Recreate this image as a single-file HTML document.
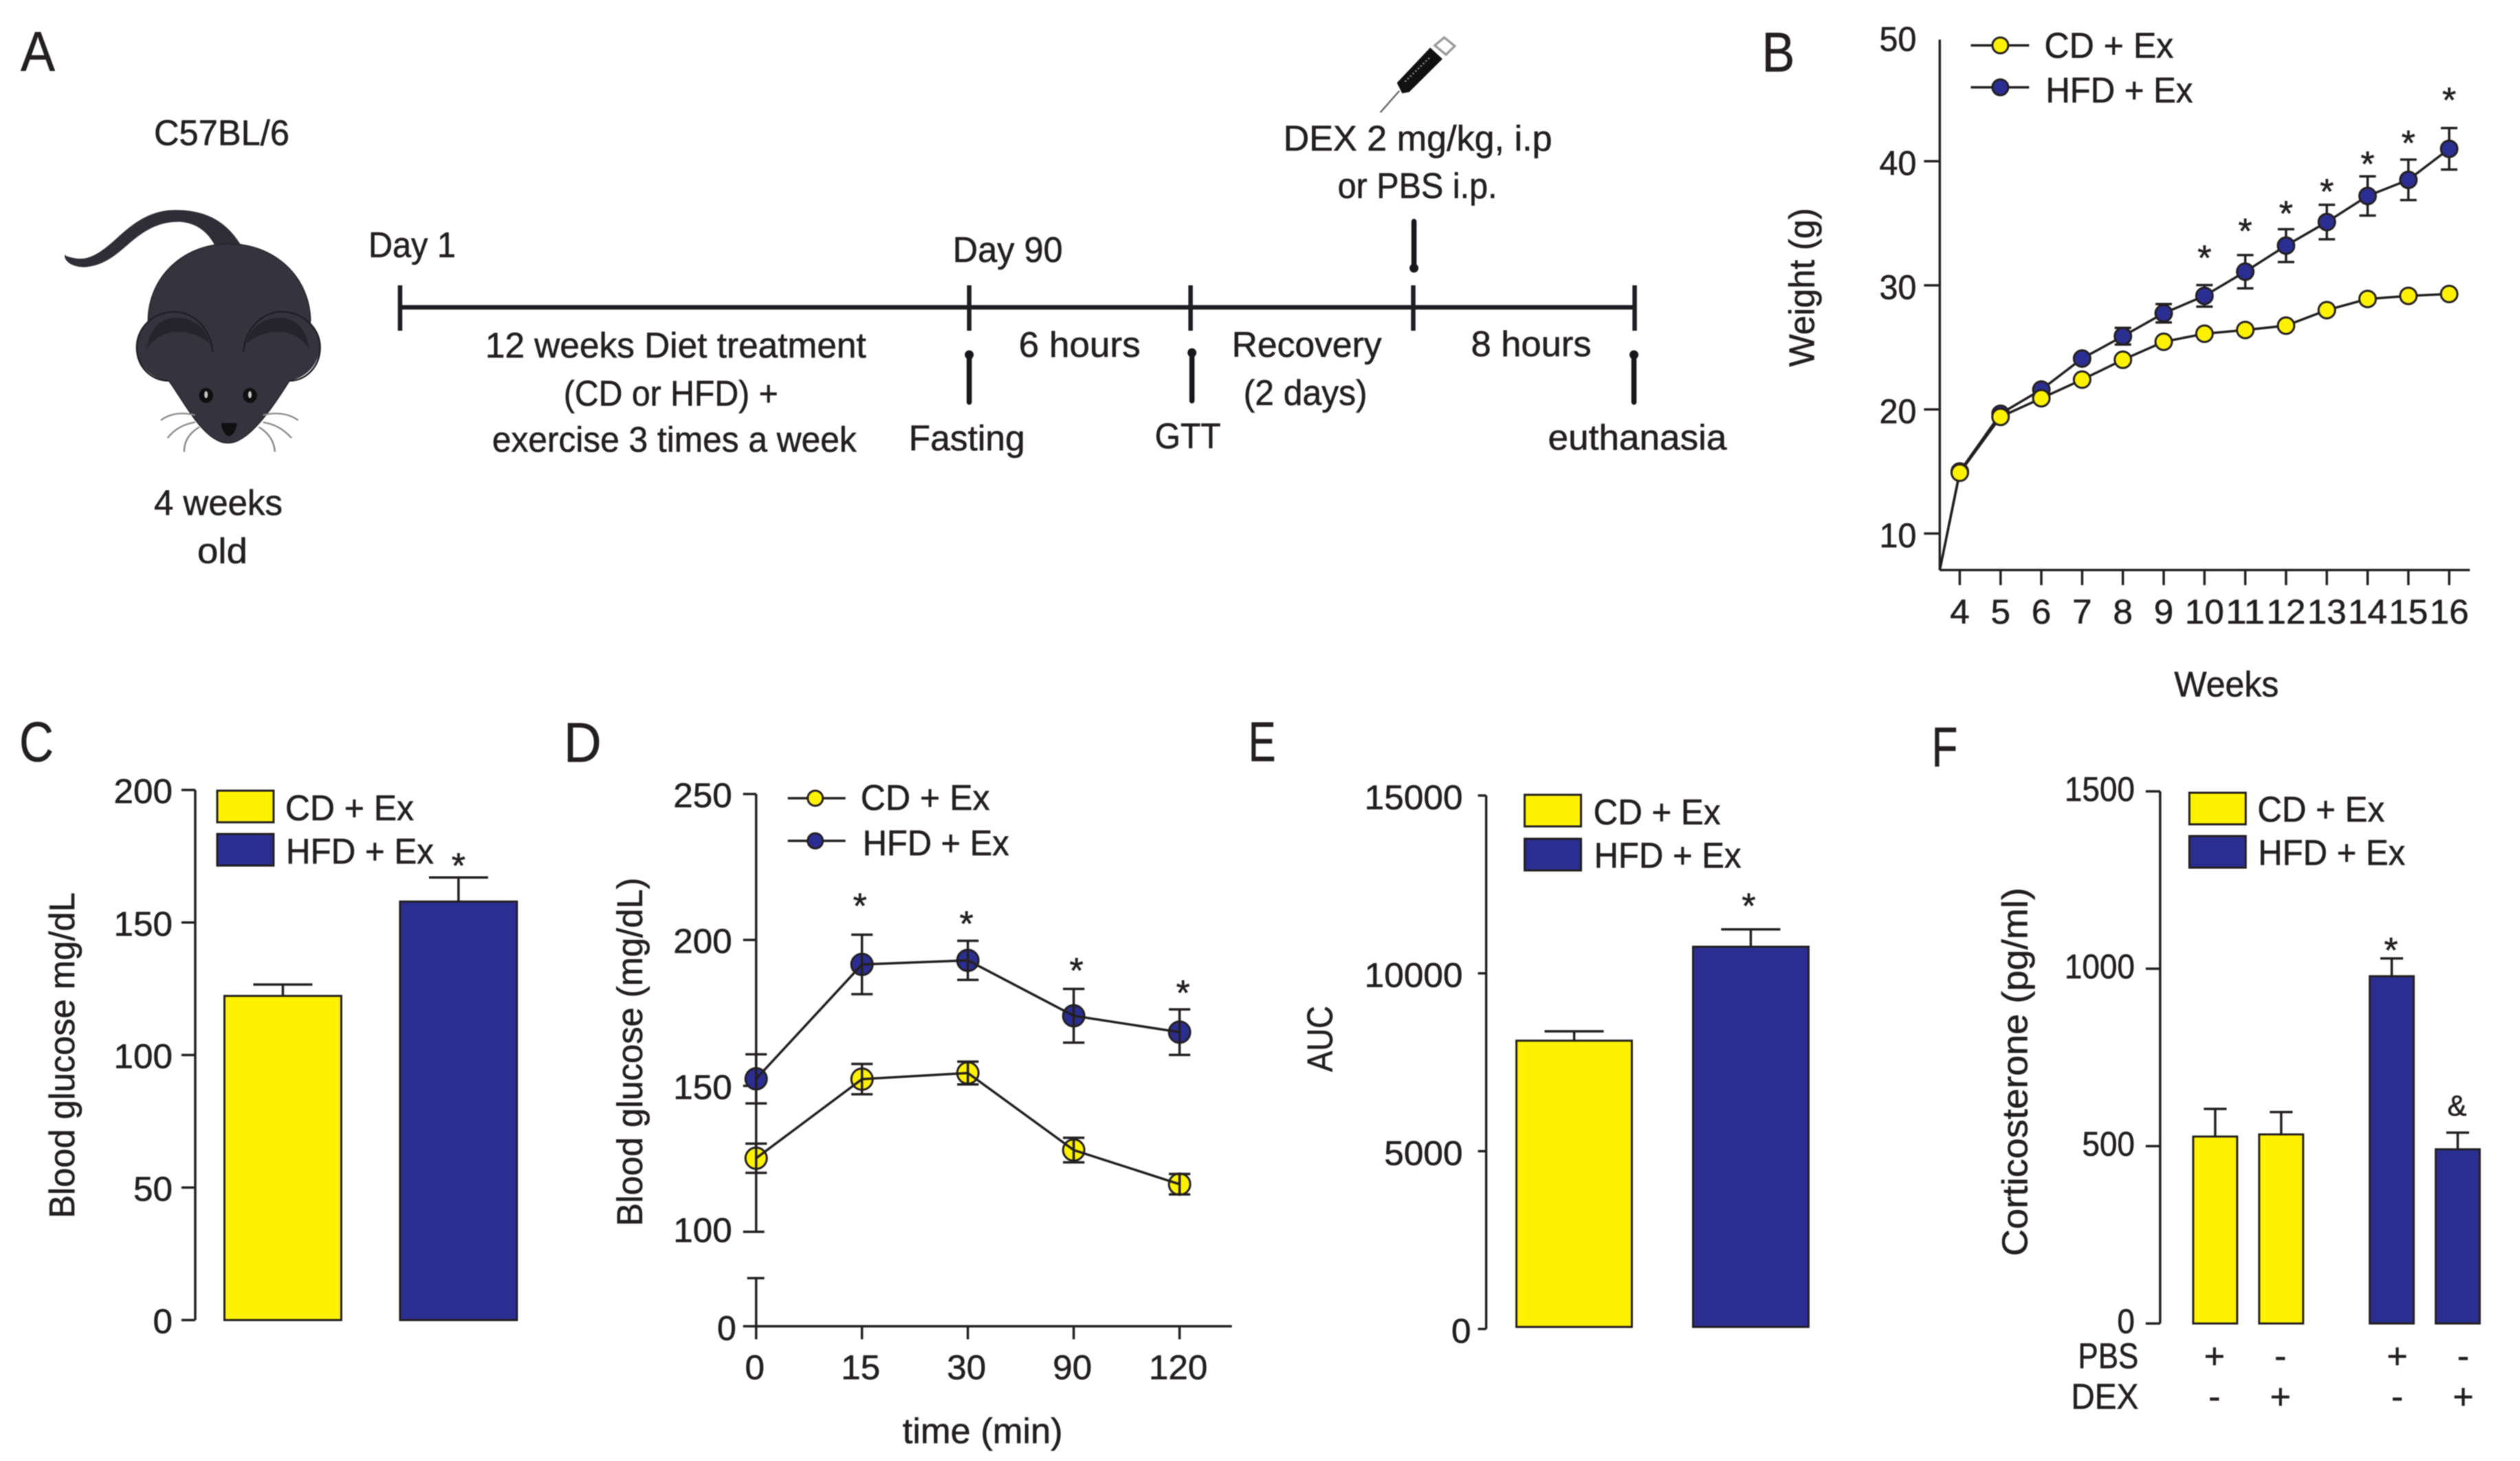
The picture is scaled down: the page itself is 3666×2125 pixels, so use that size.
<!DOCTYPE html>
<html lang="en">
<head>
<meta charset="utf-8">
<title>Diet, exercise and corticosterone figure</title>
<style>
html,body{margin:0;padding:0;background:#fff;width:3666px;height:2125px;overflow:hidden}
svg{display:block;filter:blur(.7px)}
text{font-family:"Liberation Sans",sans-serif;fill:#231f20;font-size:52px;stroke:#231f20;stroke-width:.6}
.pl{font-size:82px}
.ln{stroke:#231f20;fill:none;stroke-width:3.5}
.tl{stroke:#1d1d22;fill:none;stroke-width:6.5}
.ar{stroke:#17171c;fill:none;stroke-width:7.5;stroke-linecap:round}
.yl{fill:#fff200;stroke:#231f20;stroke-width:3}
.bl{fill:#2b2e91;stroke:#231f20;stroke-width:3}
</style>
</head>
<body>
<svg id="fig" xmlns="http://www.w3.org/2000/svg" width="3666" height="2125" viewBox="0 0 3666 2125">
<rect width="3666" height="2125" fill="#fff"/>

<g>
  <text class="pl" x="30" y="103" textLength="50" lengthAdjust="spacingAndGlyphs">A</text>
  <text x="224" y="211" textLength="197" lengthAdjust="spacingAndGlyphs">C57BL/6</text>
  <text x="224" y="749" textLength="187" lengthAdjust="spacingAndGlyphs">4 weeks</text>
  <text x="287" y="819" textLength="73" lengthAdjust="spacingAndGlyphs">old</text>

  <g transform="scale(.6378,.574)">
    <path d="M548,618C520,570 480,532 400,532C340,532 300,570 270,600C240,630 210,660 175,655C160,652 150,650 148,645C145,655 155,675 190,677C240,675 270,640 300,612C340,575 370,562 410,562C450,565 475,590 490,622Z" fill="#2f2d36"/>
    <path d="M338,810C340,700 420,618 522,618C625,618 705,700 708,810L700,900L660,965C640,1000 590,1090 545,1115C530,1125 510,1125 495,1115C450,1090 410,1000 385,965L345,900Z" fill="#35333d" stroke="#29272f" stroke-width="3"/>
    <ellipse cx="398" cy="878" rx="87" ry="89" fill="#35333d"/>
    <ellipse cx="642" cy="878" rx="87" ry="89" fill="#35333d"/>
    <path d="M335,885C340,830 370,805 400,805C440,805 470,830 478,870C450,845 420,838 390,842C365,848 345,865 335,885Z" fill="#25242b"/>
    <path d="M705,885C700,830 670,805 640,805C600,805 570,830 562,870C590,845 620,838 650,842C675,848 695,865 705,885Z" fill="#25242b"/>
    <path d="M485,892C480,830 440,790 398,790C350,790 312,830 312,880C312,930 345,965 385,965" fill="none" stroke="#1f1e24" stroke-width="4"/>
    <path d="M555,892C560,830 600,790 642,790C690,790 730,830 730,880C730,930 697,965 660,965" fill="none" stroke="#1f1e24" stroke-width="4"/>
    <ellipse cx="470" cy="1002" rx="16" ry="19" fill="#0f0f12"/>
    <ellipse cx="570" cy="1002" rx="16" ry="19" fill="#0f0f12"/>
    <ellipse cx="470" cy="1000" rx="4" ry="9" fill="#c8c8c8"/>
    <ellipse cx="570" cy="1000" rx="4" ry="9" fill="#c8c8c8"/>
    <path d="M505,1072L540,1072C540,1090 530,1105 522,1105C515,1105 505,1090 505,1072Z" fill="#0f0f12"/>
    <g fill="none" stroke="#8a8a8a" stroke-width="4">
      <path d="M445,1052C420,1045 390,1045 367,1065"/>
      <path d="M445,1070C420,1075 400,1085 382,1110"/>
      <path d="M455,1082C435,1095 420,1115 420,1145"/>
      <path d="M600,1052C625,1045 655,1045 680,1065"/>
      <path d="M600,1070C625,1075 645,1085 665,1110"/>
      <path d="M590,1082C610,1095 625,1115 627,1145"/>
    </g>
  </g>

  <g>
    <line class="tl" x1="582" y1="447" x2="2378" y2="447"/>
    <line class="tl" x1="582" y1="415" x2="582" y2="481"/>
    <line class="tl" x1="1410" y1="415" x2="1410" y2="481"/>
    <line class="tl" x1="1732" y1="415" x2="1732" y2="481"/>
    <line class="tl" x1="2056" y1="415" x2="2056" y2="481"/>
    <line class="tl" x1="2378" y1="415" x2="2378" y2="481"/>
    <line class="ar" x1="2057" y1="322" x2="2057" y2="388"/>
    <circle cx="2057" cy="390" r="6.5" fill="#17171c"/>
    <line class="ar" x1="1410" y1="518" x2="1410" y2="585"/>
    <circle cx="1410" cy="516" r="6.5" fill="#17171c"/>
    <line class="ar" x1="1734" y1="515" x2="1734" y2="583"/>
    <circle cx="1734" cy="513" r="6.5" fill="#17171c"/>
    <line class="ar" x1="2377" y1="520" x2="2377" y2="585"/>
    <circle cx="2377" cy="516" r="6.5" fill="#17171c"/>
    <text x="536" y="374" textLength="127" lengthAdjust="spacingAndGlyphs">Day 1</text>
    <text x="1386" y="381" textLength="160" lengthAdjust="spacingAndGlyphs">Day 90</text>
    <text x="706" y="520" textLength="554" lengthAdjust="spacingAndGlyphs">12 weeks Diet treatment</text>
    <text x="820" y="590" textLength="312" lengthAdjust="spacingAndGlyphs">(CD or HFD) +</text>
    <text x="716" y="657" textLength="530" lengthAdjust="spacingAndGlyphs">exercise 3 times a week</text>
    <text x="1482" y="519" textLength="177" lengthAdjust="spacingAndGlyphs">6 hours</text>
    <text x="1322" y="655" textLength="169" lengthAdjust="spacingAndGlyphs">Fasting</text>
    <text x="1680" y="652" textLength="96" lengthAdjust="spacingAndGlyphs">GTT</text>
    <text x="1792" y="519" textLength="218" lengthAdjust="spacingAndGlyphs">Recovery</text>
    <text x="1809" y="589" textLength="180" lengthAdjust="spacingAndGlyphs">(2 days)</text>
    <text x="2140" y="518" textLength="175" lengthAdjust="spacingAndGlyphs">8 hours</text>
    <text x="2252" y="654" textLength="260" lengthAdjust="spacingAndGlyphs">euthanasia</text>
    <text x="1867" y="219" textLength="391" lengthAdjust="spacingAndGlyphs">DEX 2 mg/kg, i.p</text>
    <text x="1946" y="288" textLength="232" lengthAdjust="spacingAndGlyphs">or PBS i.p.</text>
    <g transform="translate(1800,0) scale(.5102,.4464)">
      <line x1="408" y1="366" x2="462" y2="296" stroke="#666" stroke-width="5"/>
      <polygon points="455,270 550,155 585,192 490,300 470,304" fill="#111"/>
      <line x1="478" y1="266" x2="550" y2="186" stroke="#888" stroke-width="5" stroke-dasharray="5 6"/>
      <polygon points="563,148 590,122 620,150 595,178" fill="#fff" stroke="#999" stroke-width="7"/>
    </g>
  </g>
</g>

<g id="panelB">
  <text class="pl" x="2563" y="104" textLength="48" lengthAdjust="spacingAndGlyphs">B</text>
  <text transform="translate(2639,418) rotate(-90)" text-anchor="middle" textLength="231" lengthAdjust="spacingAndGlyphs">Weight (g)</text>
  <text x="3163" y="1013" textLength="152" lengthAdjust="spacingAndGlyphs">Weeks</text>
</g>
<g id="panelC">
  <text class="pl" x="28" y="1107" textLength="50" lengthAdjust="spacingAndGlyphs">C</text>
  <text transform="translate(108,1535) rotate(-90)" text-anchor="middle" textLength="474" lengthAdjust="spacingAndGlyphs">Blood glucose mg/dL</text>
</g>
<g id="panelD">
  <text class="pl" x="820" y="1108" textLength="55" lengthAdjust="spacingAndGlyphs">D</text>
  <text transform="translate(934,1530) rotate(-90)" text-anchor="middle" textLength="507" lengthAdjust="spacingAndGlyphs">Blood glucose (mg/dL)</text>
  <text x="1313" y="2099" textLength="233" lengthAdjust="spacingAndGlyphs">time (min)</text>
</g>
<g id="panelE">
  <text class="pl" x="1816" y="1107" textLength="40" lengthAdjust="spacingAndGlyphs">E</text>
  <text transform="translate(1938,1511) rotate(-90)" text-anchor="middle" textLength="96" lengthAdjust="spacingAndGlyphs">AUC</text>
</g>
<g id="panelF">
  <text class="pl" x="2810" y="1115" textLength="38" lengthAdjust="spacingAndGlyphs">F</text>
  <text transform="translate(2949,1559) rotate(-90)" text-anchor="middle" textLength="536" lengthAdjust="spacingAndGlyphs">Corticosterone (pg/ml)</text>
  <text x="3023" y="1990" textLength="88" lengthAdjust="spacingAndGlyphs">PBS</text>
  <text x="3013" y="2049" textLength="98" lengthAdjust="spacingAndGlyphs">DEX</text>
</g>

<g id="legends">
  <g>
    <line class="ln" x1="2867" y1="66" x2="2952" y2="66"/>
    <circle class="yl" cx="2910" cy="66" r="11.5"/>
    <text x="2974" y="84" textLength="188" lengthAdjust="spacingAndGlyphs">CD + Ex</text>
    <line class="ln" x1="2867" y1="127" x2="2952" y2="127"/>
    <circle class="bl" cx="2910" cy="127" r="11.5"/>
    <text x="2976" y="149" textLength="214" lengthAdjust="spacingAndGlyphs">HFD + Ex</text>
  </g>
  <g>
    <rect class="yl" x="316" y="1150" width="82" height="46"/>
    <text x="415" y="1193" textLength="187" lengthAdjust="spacingAndGlyphs">CD + Ex</text>
    <rect class="bl" x="316" y="1213" width="82" height="46"/>
    <text x="416" y="1256" textLength="215" lengthAdjust="spacingAndGlyphs">HFD + Ex</text>
  </g>
  <g>
    <line class="ln" x1="1146" y1="1161" x2="1230" y2="1161"/>
    <circle class="yl" cx="1186" cy="1161" r="11"/>
    <text x="1252" y="1178" textLength="188" lengthAdjust="spacingAndGlyphs">CD + Ex</text>
    <line class="ln" x1="1146" y1="1223" x2="1230" y2="1223"/>
    <circle class="bl" cx="1186" cy="1223" r="11"/>
    <text x="1255" y="1244" textLength="213" lengthAdjust="spacingAndGlyphs">HFD + Ex</text>
  </g>
  <g>
    <rect class="yl" x="2218" y="1156" width="82" height="46"/>
    <text x="2318" y="1199" textLength="185" lengthAdjust="spacingAndGlyphs">CD + Ex</text>
    <rect class="bl" x="2218" y="1220" width="82" height="46"/>
    <text x="2319" y="1262" textLength="214" lengthAdjust="spacingAndGlyphs">HFD + Ex</text>
  </g>
  <g>
    <rect class="yl" x="3185" y="1153" width="82" height="46"/>
    <text x="3284" y="1195" textLength="185" lengthAdjust="spacingAndGlyphs">CD + Ex</text>
    <rect class="bl" x="3185" y="1216" width="82" height="46"/>
    <text x="3285" y="1258" textLength="214" lengthAdjust="spacingAndGlyphs">HFD + Ex</text>
  </g>
</g>
</svg>

<script>
/* Panel B: body weight */
const bWeeks = [4,5,6,7,8,9,10,11,12,13,14,15,16];
const bYTicks = [10,20,30,40,50];
const bCD = [14.9,19.4,20.9,22.4,24.0,25.45,26.1,26.4,26.75,28.0,28.9,29.15,29.3];
const bHFD = [15.0,19.65,21.6,24.1,25.9,27.75,29.15,31.1,33.2,35.1,37.2,38.5,41.0];
const bHFDErr = [0,0.2,0.2,0.3,0.67,0.74,0.87,1.34,1.32,1.39,1.58,1.63,1.67];
const bStarGap = [null,null,null,null,null,null,2.64,2.38,1.71,1.52,1.45,1.78,2.71];
const bLeadIn = {week:3.51, value:7.06};

/* Panel C: fasting glucose */
const cGroups = ['CD + Ex','HFD + Ex'];
const cTicks = [0,50,100,150,200];
const cValues = [122.3,157.9];
const cErrors = [4.3,9.1];
const cStars = ['','*'];

/* Panel D: glucose tolerance */
const dTimes = [0,15,30,90,120];
const dYTicks = [100,150,200,250];
const dCD = [125.2,152.3,154.4,128,116.3];
const dCDErr = [5,5.2,3.9,4.2,3.5];
const dHFD = [152.4,191.6,193,174,168.4];
const dHFDErr = [8.4,10.2,6.7,9.2,7.8];
const dStarGap = [null,11.8,7.7,8.2,7.6];

/* Panel E: area under the curve */
const eGroups = ['CD + Ex','HFD + Ex'];
const eTicks = [0,5000,10000,15000];
const eValues = [8107,10748];
const eErrors = [263,489];
const eStars = ['','*'];

/* Panel F: corticosterone */
const fGroups = ['CD+PBS','CD+DEX','HFD+PBS','HFD+DEX'];
const fTicks = [0,500,1000,1500];
const fValues = [527,533,979,491];
const fErrors = [78,63,50,47];
const fStars = ['','','*','&'];
const fPBS = ['+','-','+','-'];
const fDEX = ['-','+','-','+'];
const fIsHFD = [false,false,true,true];

const NS = 'http://www.w3.org/2000/svg';
const INK = '#231f20', YEL = '#fff200', BLU = '#2b2e91';

function node(parent, tag, attrs, txt){
  const el = document.createElementNS(NS, tag);
  for (const k in attrs) el.setAttribute(k, attrs[k]);
  if (txt !== undefined) el.textContent = txt;
  parent.appendChild(el);
  return el;
}
function seg(parent, x1, y1, x2, y2, name){
  const el = node(parent, 'line', {x1:x1, y1:y1, x2:x2, y2:y2, stroke:INK, 'stroke-width':3.5});
  
  
  return el;
}
function label(parent, x, y, s, anchor, perDigit, name){
  const attrs = {x:x, y:y, 'text-anchor':anchor, 'font-size':50};
  if (perDigit) { attrs.textLength = String(s).length * perDigit; attrs.lengthAdjust = 'spacingAndGlyphs'; }
  const el = node(parent, 'text', attrs, String(s));
  el.style.fontSize = '50px';
  
  
  return el;
}
function star(parent, x, yc, s, name){
  const fs = s === '&' ? 42 : 52;
  const off = s === '&' ? 15 : 0.5 * fs;
  const el = node(parent, 'text', {x:x, y:yc + off, 'text-anchor':'middle'}, s);
  el.style.fontSize = fs + 'px';
  
  
  return el;
}
function marker(parent, x, y, r, fill, name){
  const el = node(parent, 'circle', {cx:x, cy:y, r:r, fill:fill, stroke:INK, 'stroke-width':3});
  
  
  return el;
}
function trace(parent, pts, name){
  const el = node(parent, 'polyline', {points:pts.map(p => p[0] + ',' + p[1]).join(' '), fill:'none', stroke:INK, 'stroke-width':3.5});
  
  
  return el;
}
function errorBar(parent, x, yTop, yBot, cap, name){
  seg(parent, x, yTop, x, yBot, name + '-stem');
  seg(parent, x - cap, yTop, x + cap, yTop, name + '-cap-top');
  seg(parent, x - cap, yBot, x + cap, yBot, name + '-cap-bottom');
}
function bar(parent, cx, w, yTop, yBase, fill, name){
  const el = node(parent, 'rect', {x:cx - w/2, y:yTop, width:w, height:yBase - yTop, fill:fill, stroke:INK, 'stroke-width':3});
  
  
  return el;
}

/* ---- Panel B ---- */
const xB = w => 2851 + (w - 4) * 59.33;
const yB = v => 776 - (v - 10) * 18.05;
(function(){
  const g = document.getElementById('panelB');
  seg(g, xB(bLeadIn.week), yB(49.8), xB(bLeadIn.week), yB(bLeadIn.value), 'y-axis-line');
  seg(g, xB(bLeadIn.week), yB(bLeadIn.value), 3593, yB(bLeadIn.value), 'x-axis-line');
  bYTicks.forEach(v => {
    if (v < 50) seg(g, xB(bLeadIn.week) - 23, yB(v), xB(bLeadIn.week), yB(v), 'y-tick-' + v);
    label(g, 2788, yB(v) + 20, v, 'end', 27, 'y-tick-label-' + v);
  });
  bWeeks.forEach(w => {
    seg(g, xB(w), yB(bLeadIn.value), xB(w), yB(bLeadIn.value) + 22, 'x-tick-' + w);
    label(g, xB(w), 907, w, 'middle', 28.5, 'x-tick-label-' + w);
  });
  const lead = [[xB(bLeadIn.week), yB(bLeadIn.value)]];
  trace(g, lead.concat(bWeeks.map((w,i) => [xB(w), yB(bHFD[i])])), 'line-hfd');
  trace(g, lead.concat(bWeeks.map((w,i) => [xB(w), yB(bCD[i])])), 'line-cd');
  bWeeks.forEach((w,i) => {
    if (bHFDErr[i] > 0) errorBar(g, xB(w), yB(bHFD[i] + bHFDErr[i]), yB(bHFD[i] - bHFDErr[i]), 12, 'error-hfd-week-' + w);
    marker(g, xB(w), yB(bHFD[i]), 12, BLU, 'point-hfd-week-' + w);
  });
  bWeeks.forEach((w,i) => {
    marker(g, xB(w), yB(bCD[i]), 12, YEL, 'point-cd-week-' + w);
    if (bStarGap[i] !== null) star(g, xB(w), yB(bHFD[i] + bHFDErr[i] + bStarGap[i]), '*', 'significance-week-' + w);
  });
})();

/* ---- Panel C ---- */
const xC = i => 411.5 + i * 255.5;
const yC = v => 1920 - v * 3.855;
(function(){
  const g = document.getElementById('panelC');
  seg(g, 284, yC(200), 284, yC(0), 'y-axis-line');
  cTicks.forEach(v => {
    seg(g, 264, yC(v), 284, yC(v), 'y-tick-' + v);
    label(g, 251, yC(v) + 19, v, 'end', 28.5, 'y-tick-label-' + v);
  });
  cGroups.forEach((name,i) => {
    const top = yC(cValues[i] + cErrors[i]);
    seg(g, xC(i), yC(cValues[i]), xC(i), top, 'error-stem-' + i);
    seg(g, xC(i) - 43, top, xC(i) + 43, top, 'error-cap-' + i);
    bar(g, xC(i), 170, yC(cValues[i]), yC(0), i ? BLU : YEL, 'bar-' + (i ? 'hfd' : 'cd'));
    if (cStars[i]) star(g, xC(i), top - 25, cStars[i], 'significance-' + i);
  });
})();

/* ---- Panel D ---- */
const xD = i => 1100 + i * 154;
const yD = v => v >= 100 ? 1791.6 - (v - 100) * 4.245 : 1929;
const dStarShift = [0,-3,-2,4,5];
(function(){
  const g = document.getElementById('panelD');
  seg(g, 1100, yD(250), 1100, yD(100), 'y-axis-upper-line');
  seg(g, 1100, 1859, 1100, yD(0), 'y-axis-lower-line');
  seg(g, 1087, 1859, 1112, 1859, 'y-axis-break-cap');
  seg(g, 1081, yD(0), 1792, yD(0), 'x-axis-line');
  dYTicks.forEach(v => {
    seg(g, 1081, yD(v), v === 100 ? 1112 : 1100, yD(v), 'y-tick-' + v);
    label(g, 1065, yD(v) + (v === 100 ? 15 : 19), v, 'end', 28.5, 'y-tick-label-' + v);
  });
  label(g, 1071, yD(0) + 20, 0, 'end', 0, 'y-tick-label-0');
  dTimes.forEach((t,i) => {
    seg(g, xD(i), yD(0), xD(i), 1948, 'x-tick-' + t);
    label(g, xD(i) - 2, 2006, t, 'middle', 28.5, 'x-tick-label-' + t);
  });
  dTimes.forEach((t,i) => {
    marker(g, xD(i), yD(dHFD[i]), 15.5, BLU, 'point-hfd-' + t);
    marker(g, xD(i), yD(dCD[i]), 15.5, YEL, 'point-cd-' + t);
  });
  trace(g, dTimes.map((t,i) => [xD(i), yD(dHFD[i])]), 'line-hfd');
  trace(g, dTimes.map((t,i) => [xD(i), yD(dCD[i])]), 'line-cd');
  dTimes.forEach((t,i) => {
    errorBar(g, xD(i), yD(dHFD[i] + dHFDErr[i]), yD(dHFD[i] - dHFDErr[i]), 15.6, 'error-hfd-' + t);
    errorBar(g, xD(i), yD(dCD[i] + dCDErr[i]), yD(dCD[i] - dCDErr[i]), 15.6, 'error-cd-' + t);
    if (dStarGap[i] !== null) star(g, xD(i) + dStarShift[i], yD(dHFD[i] + dHFDErr[i] + dStarGap[i]), '*', 'significance-' + t);
  });
})();

/* ---- Panel E ---- */
const xE = i => 2290 + i * 257;
const yE = v => 1933 - v * 0.05173;
(function(){
  const g = document.getElementById('panelE');
  seg(g, 2162, yE(15000), 2162, yE(0), 'y-axis-line');
  eTicks.forEach(v => {
    seg(g, 2150, yE(v), 2162, yE(v), 'y-tick-' + v);
    label(g, v === 0 ? 2140 : 2128, yE(v) + 20, v, 'end', 28.6, 'y-tick-label-' + v);
  });
  eGroups.forEach((name,i) => {
    const top = yE(eValues[i] + eErrors[i]);
    seg(g, xE(i), yE(eValues[i]), xE(i), top, 'error-stem-' + i);
    seg(g, xE(i) - 43, top, xE(i) + 43, top, 'error-cap-' + i);
    bar(g, xE(i), 168, yE(eValues[i]), yE(0) - 3, i ? BLU : YEL, 'bar-' + (i ? 'hfd' : 'cd'));
    if (eStars[i]) star(g, xE(i) - 3, top - 42, eStars[i], 'significance-' + i);
  });
})();

/* ---- Panel F ---- */
const xF = i => 3222.6 + i * 96 + (i >= 2 ? 64.8 : 0);
const yF = v => 1925 - v * 0.516;
(function(){
  const g = document.getElementById('panelF');
  seg(g, 3142.5, yF(1500), 3142.5, yF(0), 'y-axis-line');
  fTicks.forEach(v => {
    seg(g, 3121.5, yF(v), 3142.5, yF(v), 'y-tick-' + v);
    label(g, 3105.5, yF(v) + 14, v, 'end', 25.5, 'y-tick-label-' + v);
  });
  fGroups.forEach((name,i) => {
    const top = yF(fValues[i] + fErrors[i]);
    seg(g, xF(i), yF(fValues[i]), xF(i), top, 'error-stem-' + i);
    seg(g, xF(i) - 16.6, top, xF(i) + 16.6, top, 'error-cap-' + i);
    bar(g, xF(i), 64, yF(fValues[i]), yF(0), fIsHFD[i] ? BLU : YEL, 'bar-' + i);
    if (fStars[i]) star(g, xF(i) - 1, top - (fStars[i] === '&' ? 40 : 20), fStars[i], 'significance-' + i);
    const p = node(g, 'text', {x:xF(i) + (i >= 2 ? 8 : -1), y:1990, 'text-anchor':'middle'}, fPBS[i]);
    
    
    const d = node(g, 'text', {x:xF(i) + (i >= 2 ? 8 : -1), y:2049, 'text-anchor':'middle'}, fDEX[i]);
    
    
  });
})();
</script>
</body>
</html>
